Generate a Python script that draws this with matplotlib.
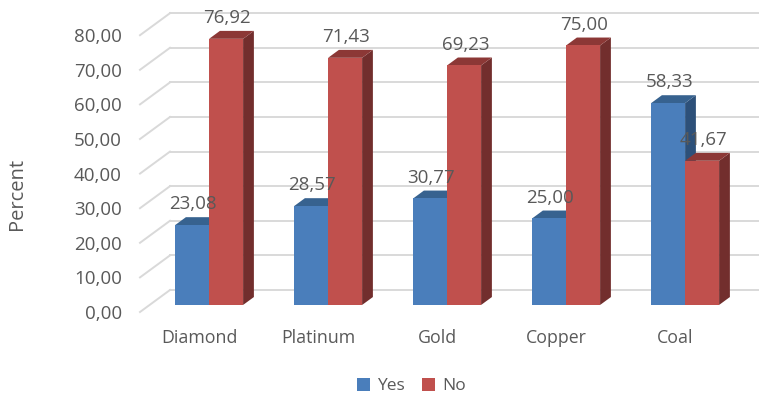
import matplotlib
matplotlib.use('Agg')
import matplotlib.pyplot as plt
from matplotlib.patches import Polygon, Patch

plt.rcParams['font.family'] = ['Open Sans', 'DejaVu Sans']
plt.rcParams['font.size'] = 12.5

categories = ['Diamond', 'Platinum', 'Gold', 'Copper', 'Coal']
yes_vals = [23.08, 28.57, 30.77, 25.00, 58.33]
no_vals = [76.92, 71.43, 69.23, 75.00, 41.67]
yticks = [0, 10, 20, 30, 40, 50, 60, 70, 80]

txt = '#595959'
grid = '#d9d9d9'
blue = ('#4a7ebb', '#37628f', '#2d5079')   # front, top, side
red = ('#c0504d', '#8c3836', '#722e2d')

# 3D-ish projection: depth vector (in data units) from floor front to back wall
DX, DY = 0.252, 6.36
d0, d1 = 0.32, 0.68
w = 0.2857

fig = plt.figure(figsize=(7.59, 3.96), dpi=100)
ax = fig.add_axes([140/759, 84/396, 595/759, 276.8/396])
ax.set_xlim(-0.5, 4.5)
ax.set_ylim(0, 80)
for s in ax.spines.values():
    s.set_visible(False)
ax.set_xticks([])
ax.set_yticks(yticks)
ax.yaxis.set_major_formatter(matplotlib.ticker.FuncFormatter(lambda v, p: ('%.2f' % v).replace('.', ',')))
ax.tick_params(axis='y', length=0, pad=13, labelcolor=txt, labelsize=13.5)

# walls: diagonal floor lines and back-wall gridlines
for t in yticks:
    ax.plot([-0.5, -0.5 + DX], [t, t + DY], color=grid, lw=1.4, clip_on=False, zorder=1)
    ax.plot([-0.5 + DX, 4.5 + DX], [t + DY, t + DY], color=grid, lw=1.4, clip_on=False, zorder=1)


def bar3d(x0, v, cols, z):
    x1 = x0 + w
    b = d0 * DY
    ddx, ddy = (d1 - d0) * DX, (d1 - d0) * DY
    side = [(x1, b), (x1 + ddx, b + ddy), (x1 + ddx, b + v + ddy), (x1, b + v)]
    top = [(x0, b + v), (x1, b + v), (x1 + ddx, b + v + ddy), (x0 + ddx, b + v + ddy)]
    front = [(x0, b), (x1, b), (x1, b + v), (x0, b + v)]
    ax.add_patch(Polygon(side, closed=True, fc=cols[2], ec='none', clip_on=False, zorder=z))
    ax.add_patch(Polygon(top, closed=True, fc=cols[1], ec='none', clip_on=False, zorder=z))
    ax.add_patch(Polygon(front, closed=True, fc=cols[0], ec='none', clip_on=False, zorder=z))
    ax.text(x0 + w / 2 + 0.01, b + v + 6.0, ('%.2f' % v).replace('.', ','),
            ha='center', va='center', color=txt, fontsize=13.5, zorder=z + 5)


for i, cat in enumerate(categories):
    c = i + d0 * DX
    bar3d(c - w, yes_vals[i], blue, 2)
    bar3d(c, no_vals[i], red, 3)
    ax.text(i, -7.5, cat, ha='center', va='center', color=txt, fontsize=12.8, clip_on=False)

fig.text(17/759, 1 - 194/396, 'Percent', rotation=90, ha='center', va='center',
         color=txt, fontsize=14.5)

handles = [Patch(fc=blue[0], label='Yes'), Patch(fc=red[0], label='No')]
leg = fig.legend(handles=handles, loc='center', bbox_to_anchor=(0.542, 0.025), ncol=2,
                 frameon=False, handlelength=0.75, handleheight=0.75, columnspacing=1.0,
                 handletextpad=0.4, fontsize=12.5)
for t in leg.get_texts():
    t.set_color(txt)

fig.savefig('out.png', dpi=100)
